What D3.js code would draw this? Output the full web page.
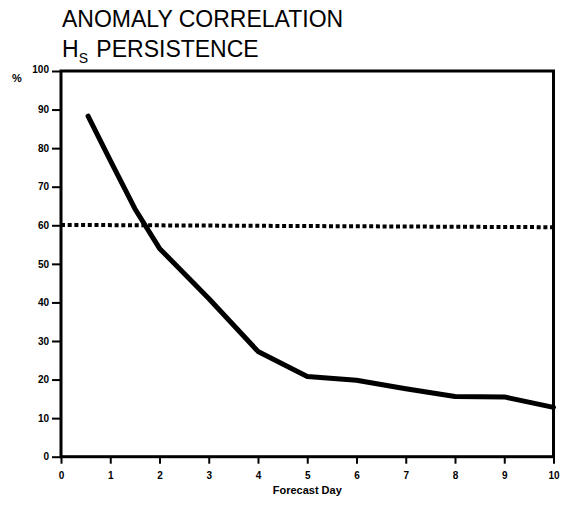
<!DOCTYPE html>
<html>
<head>
<meta charset="utf-8">
<script src="https://cdn.jsdelivr.net/npm/d3@7"></script>
<style>
  body { margin: 0; background: #fff; }
  svg { display: block; font-family: "Liberation Sans", Arial, Helvetica, sans-serif; }
</style>
</head>
<body>
<script>
// values
const forecastDays = [0.55, 1, 1.5, 2, 3, 4, 5, 6, 7, 8, 9, 10];
const correlation = [88.3, 76.8, 64.3, 54, 41, 27.3, 20.8, 19.8, 17.6, 15.6, 15.5, 12.8];
const thresholdDays = [0, 10];
const thresholdValues = [60.1, 59.5];
const xTicks = [0, 1, 2, 3, 4, 5, 6, 7, 8, 9, 10];
const yTicks = [0, 10, 20, 30, 40, 50, 60, 70, 80, 90, 100];

const W = 566, H = 505;
const padL = 61, padR = 553.5, padT = 71, padB = 456.7;

const svg = d3.select("body").append("svg").attr("width", W).attr("height", H);

const xScale = d3.scaleLinear().domain([0, 10]).range([padL, padR]);
const yScale = d3.scaleLinear().domain([0, 100]).range([padB, padT]);

let drawTitle = () => {
    svg.append("text").attr("x", 62).attr("y", 27)
        .attr("font-size", 23).text("ANOMALY CORRELATION");
    let t = svg.append("text").attr("x", 62).attr("y", 57).attr("font-size", 23);
    t.append("tspan").text("H");
    t.append("tspan").attr("font-size", 14).attr("dy", 6).text("S");
    t.append("tspan").attr("dy", -6).attr("dx", 2).text(" PERSISTENCE");
};

let drawAxes = () => {
    let yAxis = d3.axisLeft(yScale).tickValues(yTicks).tickSize(9).tickPadding(3);
    let gy = svg.append("g").attr("transform", "translate(" + padL + ",0)").call(yAxis);
    gy.select(".domain").remove();
    gy.selectAll(".tick line").attr("stroke", "#000").attr("stroke-width", 2);
    gy.selectAll(".tick text").attr("font-size", 10).attr("font-weight", "bold")
        .attr("font-family", "Liberation Sans, Arial, sans-serif").attr("fill", "#000");
    gy.selectAll(".tick").filter(d => d == 100).select("text").attr("dy", "0.1em");

    let xAxis = d3.axisBottom(xScale).tickValues(xTicks).tickSize(7).tickPadding(8);
    let gx = svg.append("g").attr("transform", "translate(0," + padB + ")").call(xAxis);
    gx.select(".domain").remove();
    gx.selectAll(".tick line").attr("stroke", "#000").attr("stroke-width", 2);
    gx.selectAll(".tick text").attr("font-size", 10).attr("font-weight", "bold")
        .attr("font-family", "Liberation Sans, Arial, sans-serif").attr("fill", "#000");

    // frame
    svg.append("rect")
        .attr("x", xScale(0)).attr("y", yScale(100))
        .attr("width", xScale(10) - xScale(0)).attr("height", yScale(0) - yScale(100))
        .attr("fill", "none").attr("stroke", "#000").attr("stroke-width", 3);

    svg.append("text").attr("x", 17).attr("y", 82).attr("text-anchor", "middle")
        .attr("font-size", 11).attr("font-weight", "bold").text("%");

    svg.append("text").attr("x", (xScale(0) + xScale(10)) / 2).attr("y", 494)
        .attr("text-anchor", "middle").attr("font-size", 11).attr("font-weight", "bold")
        .text("Forecast Day");
};

let drawLines = () => {
    let line = d3.line().x(d => xScale(d[0])).y(d => yScale(d[1]));

    svg.append("path")
        .datum(d3.zip(thresholdDays, thresholdValues))
        .attr("d", line)
        .attr("fill", "none").attr("stroke", "#000")
        .attr("stroke-width", 4).attr("stroke-dasharray", "4 2.7");

    svg.append("path")
        .datum(d3.zip(forecastDays, correlation))
        .attr("d", line)
        .attr("fill", "none").attr("stroke", "#000")
        .attr("stroke-width", 5).attr("stroke-linecap", "round").attr("stroke-linejoin", "round");
};

drawTitle();
drawAxes();
drawLines();
</script>
</body>
</html>
